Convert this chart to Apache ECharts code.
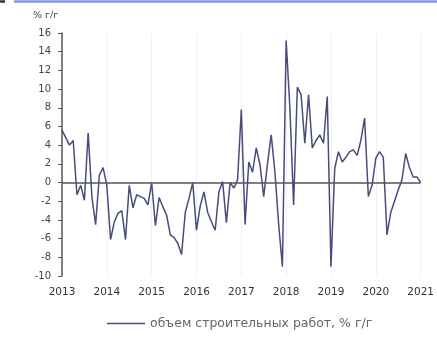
<!DOCTYPE html>
<html>
<head>
<meta charset="utf-8">
<script src="https://cdn.jsdelivr.net/npm/echarts@6/dist/echarts.min.js"></script>
<style>html,body{margin:0;padding:0;background:#fff;}#c{width:437px;height:358px;}</style>
</head>
<body>
<div id="c"></div>
<script>
// Monthly data, Jan 2013 .. Jan 2021
var years = [2013, 2014, 2015, 2016, 2017, 2018, 2019, 2020, 2021];
var seriesName = 'объем строительных работ, % г/г';
var unitLabel = '% г/г';
var values = [
  5.6, 4.8, 4.0, 4.5, -1.3, -0.3, -1.9, 5.3, -1.5, -4.5, 0.8, 1.6,
  -0.3, -6.1, -4.2, -3.3, -3.0, -6.1, -0.3, -2.7, -1.3, -1.5, -1.7, -2.4,
  0.0, -4.6, -1.6, -2.6, -3.5, -5.6, -5.9, -6.5, -7.7, -3.2, -1.7, 0.0,
  -5.1, -2.5, -1.0, -3.2, -4.2, -5.1, -1.0, 0.1, -4.3, 0.0, -0.6, 0.3,
  7.8, -4.5, 2.2, 1.1, 3.7, 1.9, -1.5, 2.0, 5.1, 1.1, -4.5, -9.0,
  15.2, 8.0, -2.4, 10.2, 9.4, 4.2, 9.4, 3.7, 4.5, 5.1, 4.2, 9.2,
  -9.0, 1.5, 3.3, 2.2, 2.7, 3.3, 3.5, 2.9, 4.5, 6.9, -1.5, -0.3,
  2.6, 3.3, 2.7, -5.6, -3.2, -2.0, -0.8, 0.3, 3.1, 1.6, 0.6, 0.6,
  0.0
];
var categories = [];
for (var y = 0; y < years.length; y++) {
  for (var m = 1; m <= 12; m++) {
    if (categories.length < values.length) categories.push(years[y] + '-' + (m < 10 ? '0' + m : m));
  }
}

var chart = echarts.init(document.getElementById('c'), null, {renderer: 'canvas'});
var font = 'DejaVu Sans';
chart.setOption({
  animation: false,
  backgroundColor: '#ffffff',
  grid: {left: 62, right: 16, top: 33, bottom: 82},
  legend: {
    left: 102, top: 312,
    icon: 'rect', itemWidth: 38, itemHeight: 1.5, itemGap: 10,
    textStyle: {fontFamily: font, fontSize: 12.5, color: '#666'},
    data: [seriesName]
  },
  graphic: [
    {type: 'line', shape: {x1: 14, y1: 1.5, x2: 437, y2: 1.5}, style: {stroke: '#7f9cd8', lineWidth: 2.5}},
    {type: 'line', shape: {x1: 0, y1: 1.5, x2: 5, y2: 1.5}, style: {stroke: '#333', lineWidth: 2.5}},
    {type: 'text', left: 33, top: 11, style: {text: unitLabel, font: '9.5px ' + font, fill: '#444'}}
  ],
  xAxis: {
    type: 'category',
    data: categories,
    boundaryGap: false,
    axisLine: {show: false},
    axisTick: {show: false},
    axisLabel: {
      interval: function (i) { return i % 12 === 0; },
      formatter: function (v) { return v.slice(0, 4); },
      fontFamily: font, fontSize: 10.5, color: '#333', margin: 11
    },
    splitLine: {
      show: true,
      interval: function (i) { return i % 12 === 0 && i > 0; },
      lineStyle: {color: '#f0f0f5', width: 1}
    }
  },
  yAxis: {
    type: 'value',
    min: -10, max: 16, interval: 2,
    axisLine: {show: true, lineStyle: {color: '#555', width: 1.5}},
    axisTick: {show: true, length: 4, lineStyle: {color: '#555', width: 1}},
    axisLabel: {fontFamily: font, fontSize: 10, color: '#444', margin: 11},
    splitLine: {show: false}
  },
  series: [{
    name: seriesName,
    type: 'line',
    data: values,
    showSymbol: false,
    symbol: 'none',
    lineStyle: {color: '#474c7c', width: 1.5},
    itemStyle: {color: '#474c7c'},
    markLine: {
      silent: true,
      symbol: 'none',
      label: {show: false},
      lineStyle: {color: '#555', width: 1.6, type: 'solid'},
      data: [{yAxis: 0}]
    },
    z: 3
  }]
});
</script>
</body>
</html>
